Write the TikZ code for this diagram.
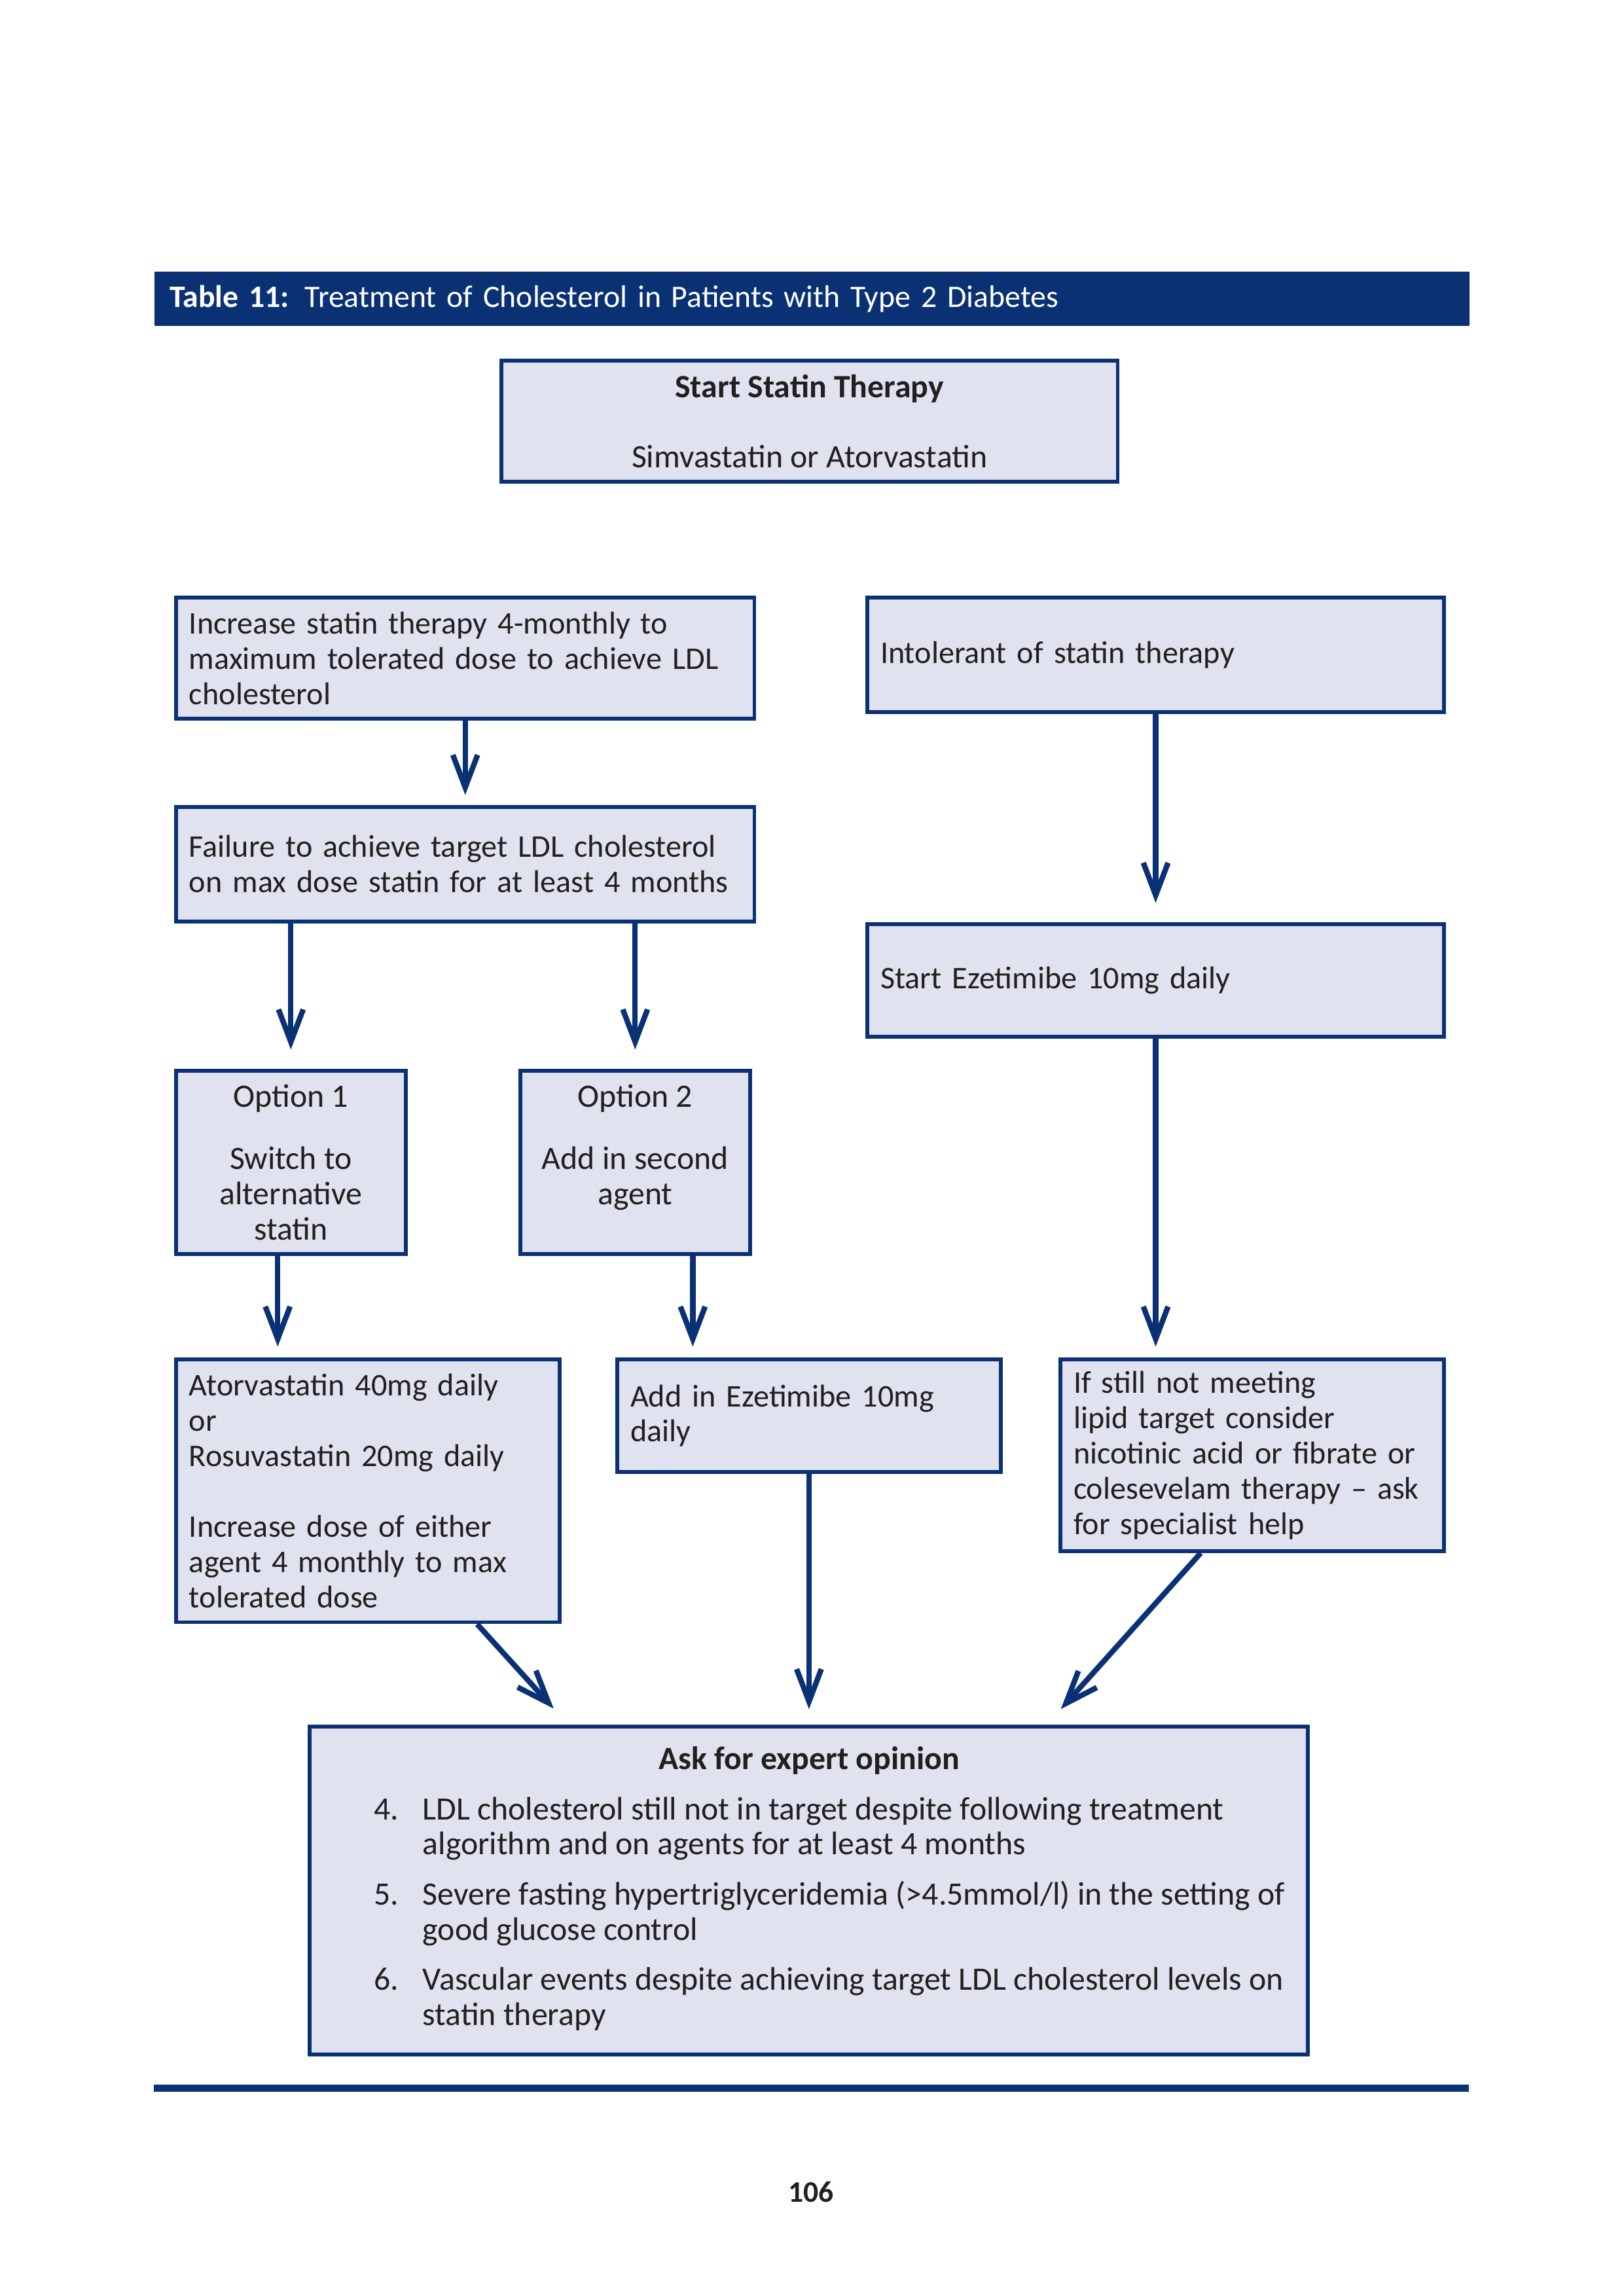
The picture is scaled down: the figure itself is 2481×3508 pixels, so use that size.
\documentclass[tikz,border=0pt]{standalone}
\usepackage{fontspec}
\setmainfont{Carlito}
\usepackage{array}
\usetikzlibrary{arrows.meta, positioning, calc}
\definecolor{navycol}{RGB}{11,49,117}
\definecolor{fillcol}{RGB}{225,226,239}
\definecolor{inkcol}{RGB}{35,31,32}

\begin{document}
\begin{tikzpicture}[
  x=0.08466mm, y=-0.08466mm,
  font=\fontsize{11}{13}\selectfont, text=inkcol,
  box/.style={draw=navycol, line width=1.4pt, fill=fillcol,
              inner xsep=0.17cm, inner ysep=0pt, anchor=north west,
              font=\fontsize{12}{13}\selectfont},
  leftbox/.style={box, align=left, font=\fontsize{11.6}{13}\selectfont},
  midbox/.style={box, align=center},
  arr/.style={-{Straight Barb[length=0.42cm, width=0.32cm]}, line width=2pt, navycol}
]
  \useasboundingbox (0,0) rectangle (2481,3508);

  \node[fill=navycol, text=white, anchor=north west, align=left,
        text width=16.61cm, minimum height=0.70cm, inner xsep=0.2cm, inner ysep=0pt,
        font=\fontsize{11.5}{14}\selectfont] (title) at (235,414)
    {\textbf{Table 11:} Treatment of Cholesterol in Patients with Type 2 Diabetes};

  \node[midbox, minimum width=7.97cm, minimum height=1.57cm] (start) at (763,548)
    {\textbf{Start Statin Therapy}\\[13pt]Simvastatin or Atorvastatin};

  \node[leftbox, text width=7.14cm, minimum height=1.57cm] (inc) at (266,910)
    {Increase statin therapy 4-monthly to\\maximum tolerated dose to achieve LDL\\cholesterol};
  \node[leftbox, text width=7.12cm, minimum height=1.48cm] (intol) at (1322,910)
    {Intolerant of statin therapy};
  \node[leftbox, text width=7.14cm, minimum height=1.48cm] (fail) at (266,1230)
    {Failure to achieve target LDL cholesterol\\on max dose statin for at least 4 months};
  \node[leftbox, text width=7.12cm, minimum height=1.46cm] (sez) at (1322,1409)
    {Start Ezetimibe 10mg daily};

  \node[midbox, minimum width=2.97cm, minimum height=2.37cm] (opt1) at (266,1633)
    {Option 1\\[10pt]Switch to\\alternative\\statin};
  \node[midbox, minimum width=2.97cm, minimum height=2.37cm] (opt2) at (792,1633)
    {Option 2\\[10pt]Add in second\\agent\\\mbox{}};

  \node[leftbox, text width=4.62cm, minimum height=3.40cm] (ato) at (266,2074)
    {Atorvastatin 40mg daily\\or\\Rosuvastatin 20mg daily\\[13pt]Increase dose of either\\agent 4 monthly to max\\tolerated dose};
  \node[leftbox, text width=4.62cm, minimum height=1.46cm] (aez) at (940,2074)
    {Add in Ezetimibe 10mg\\daily};
  \node[leftbox, text width=4.62cm, minimum height=2.48cm] (still) at (1617,2074)
    {If still not meeting\\lipid target consider\\nicotinic acid or fibrate or\\colesevelam therapy -- ask\\for specialist help};

  \node[box, inner xsep=0pt, minimum width=12.91cm, minimum height=4.24cm] (ask) at (470,2635)
    {\begin{tabular}{@{\hspace{0.54cm}}p{0.627cm}@{}l@{}}
       \multicolumn{2}{@{\hspace{0.54cm}}c@{}}{\hspace*{-0.525cm}\textbf{Ask for expert opinion}}\\[5.4pt]
       4. & LDL cholesterol still not in target despite following treatment\\
          & algorithm and on agents for at least 4 months\\[5.4pt]
       5. & Severe fasting hypertriglyceridemia (>4.5mmol/l) in the setting of\\
          & good glucose control\\[5.4pt]
       6. & Vascular events despite achieving target LDL cholesterol levels on\\
          & statin therapy
     \end{tabular}};

  \draw[arr, shorten >=0.13cm] (inc) -- (fail);
  \draw[arr, shorten >=0.25cm] (fail.south -| opt1) -- (opt1.north);
  \draw[arr, shorten >=0.25cm] (fail.south -| opt2) -- (opt2.north);
  \draw[arr, shorten >=0.25cm] (intol) -- (sez);
  \draw[arr, shorten >=0.14cm] ([xshift=-0.17cm]opt1.south) -- ([xshift=-0.17cm]opt1.south |- ato.north);
  \draw[arr, shorten >=0.14cm] ([xshift=0.745cm]opt2.south) -- ([xshift=0.745cm]opt2.south |- aez.north);
  \draw[arr, shorten >=0.14cm] (sez) -- (sez |- still.north);
  \draw[arr, shorten >=0.2cm] (aez) -- (aez |- ask.north);
  \draw[arr, shorten >=0.28cm] ([xshift=-1.09cm]ato.south east) -- ([xshift=3.37cm]ask.north west);
  \draw[arr, shorten >=0.27cm] ([xshift=1.84cm]still.south west) -- ([xshift=9.56cm]ask.north west);

  \fill[navycol] (235,3185) rectangle (2244,3196);
  \node[font=\fontsize{11}{13}\selectfont\bfseries] (pagenum) at (1239,3349) {106};
\end{tikzpicture}
\end{document}
